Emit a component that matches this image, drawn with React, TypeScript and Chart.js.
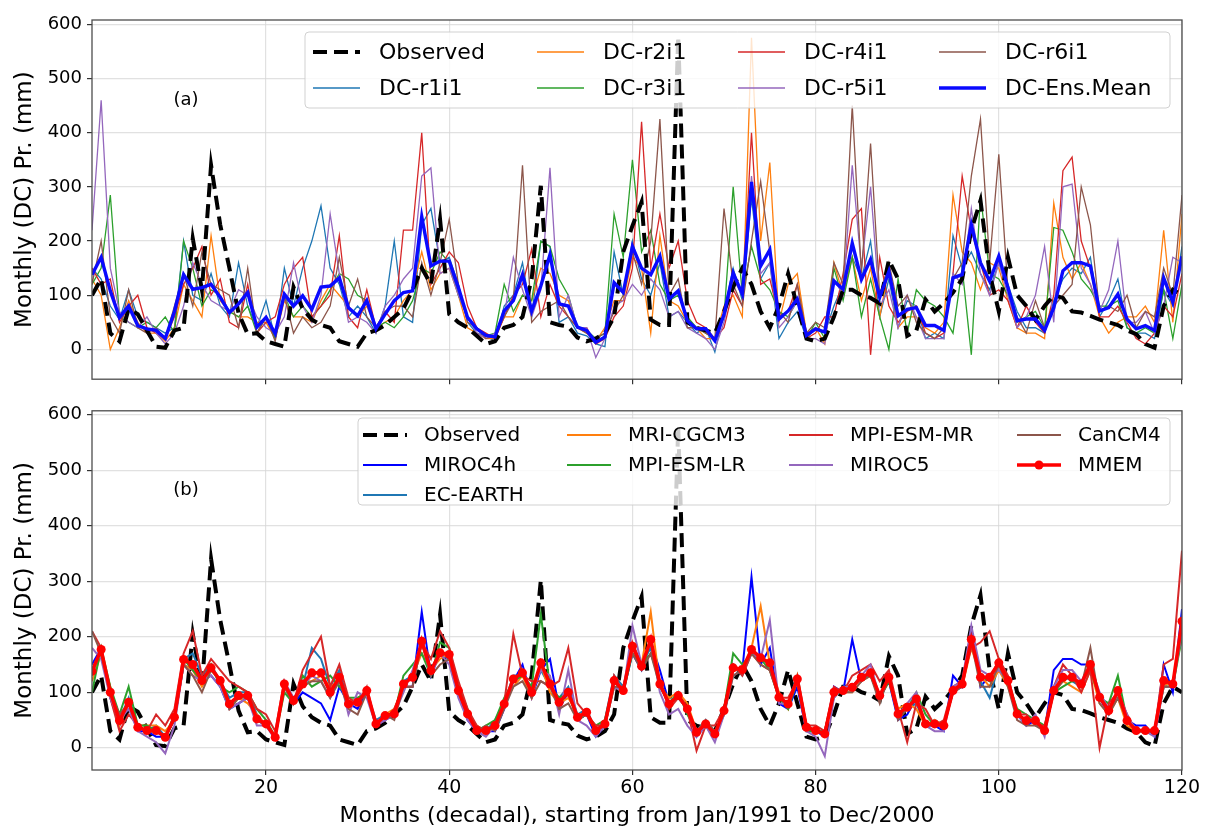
import React, { useEffect, useRef } from "react";
import { Chart, registerables } from "chart.js";
Chart.register(...registerables);

// ---------- data ----------
const months: number[] = Array.from({ length: 120 }, (_, i) => i + 1);
const xTickValues = [20, 40, 60, 80, 100, 120];
const yTickValues = [0, 100, 200, 300, 400, 500, 600];

const observed = [
  100, 130, 30, 15, 75, 65, 35, 5, 3, 35,
  40, 205, 110, 340, 230, 150, 67, 28, 30, 15,
  10, 5, 115, 75, 55, 45, 40, 15, 10, 5,
  30, 35, 45, 60, 75, 110, 150, 120, 240, 65,
  50, 40, 25, 10, 15, 40, 45, 60, 130, 302,
  50, 45, 42, 22, 15, 20, 30, 60, 180, 228,
  272, 55, 45, 45, 578, 50, 40, 35, 30, 70,
  115, 150, 120, 70, 40, 80, 140, 80, 20, 15,
  20, 60, 110, 110, 100, 95, 85, 165, 130, 25,
  35, 92, 70, 85, 105, 130, 220, 275, 140, 70,
  170, 100, 80, 55, 80, 100, 95, 70, 68, 62,
  55, 50, 45, 35, 28, 10, 3, 80, 110, 100,
];

const dcR1 = [
  150, 130, 80, 55, 110, 60, 50, 40, 30, 40,
  200, 100, 90, 140, 80, 60, 160, 80, 40, 90,
  20, 150, 80, 150, 200, 265, 150, 120, 60, 80,
  60, 30, 80, 200, 60, 50, 230, 260, 160, 170,
  120, 50, 30, 25, 15, 80, 100, 160, 60, 200,
  190, 50, 60, 30, 25, 10, 5, 180, 100, 200,
  130, 100, 160, 60, 70, 50, 30, 40, -5, 70,
  150, 90, 280, 130, 160, 20, 50, 70, 20, 40,
  30, 80, 120, 170, 130, 200, 60, 130, 40, 90,
  80, 20, 30, 20, 210, 150, 180, 140, 110, 160,
  120, 70, 40, 40, 30, 90, 130, 150, 140, 170,
  60, 90, 130, 40, 30, 30, 20, 110, 80, 190,
];
const dcR2 = [
  130, 100, 0, 40, 90, 50, 30, 30, 15, 40,
  120, 90, 60, 210, 90, 70, 60, 60, 50, 50,
  20, 90, 60, 60, 50, 90, 120, 100, 80, 60,
  80, 40, 50, 60, 90, 110, 180, 110, 140, 150,
  100, 40, 30, 20, 20, 60, 60, 100, 90, 150,
  140, 100, 90, 40, 30, 15, 40, 90, 90, 170,
  150, 30, 210, 90, 80, 50, 40, 20, 20, 80,
  100, 60, 575, 200, 345, 50, 120, 140, 30, 40,
  10, 160, 100, 170, 90, 150, 60, 150, 40, 60,
  60, 40, 30, 50, 285, 180, 160, 110, 160, 150,
  90, 40, 30, 30, 20, 270, 170, 130, 160, 120,
  60, 30, 50, 60, 60, 80, 50, 220, 50, 250,
];
const dcR3 = [
  120, 150, 285, 60, 50, 40, 50, 40, 60, 30,
  200, 150, 80, 110, 100, 70, 60, 80, 30, 60,
  20, 100, 60, 80, 60, 80, 110, 140, 130, 100,
  90, 40, 50, 40, 60, 90, 150, 140, 180, 160,
  100, 60, 40, 25, 30, 120, 70, 100, 90, 200,
  190, 130, 100, 40, 35, 20, 30, 250, 170, 350,
  180, 220, 120, 90, 100, 60, 40, 30, 20, 60,
  300, 100, 190, 130, 110, 70, 60, 90, 20, 50,
  20, 150, 90, 170, 60, 130, 60, 0, 130, 30,
  110, 90, 80, 60, 30, 150, -10, 285, 140, 130,
  100, 50, 60, 70, 40, 225, 220, 180, 130, 110,
  80, 80, 90, 40, 30, 40, 30, 110, 20, 120,
];
const dcR4 = [
  150, 120, 130, 50, 80, 100, 40, 30, 20, 60,
  120, 150, 190, 100, 130, 50, 40, 120, 30, 50,
  60, 120, 150, 170, 60, 80, 100, 210, 60, 40,
  110, 40, 70, 50, 220, 220, 400, 120, 150, 180,
  160, 80, 40, 30, 20, 60, 100, 120, 185, 60,
  120, 80, 60, 40, 40, 10, 20, 60, 80, 150,
  420, 150, 250, 150, 200, 90, 50, 40, 20, 40,
  110, 80, 400, 120, 130, 60, 70, 120, 20, 30,
  60, 60, 140, 240, 260, -10, 170, 80, 50, 70,
  80, 30, 20, 30, 140, 320, 220, 160, 100, 110,
  90, 40, 80, 50, 30, 100, 330, 355, 200, 150,
  60, 60, 80, 50, 20, 10, 30, 80, 60, 140,
];
const dcR5 = [
  220, 460, 150, 70, 50, 40, 60, 30, 10, 30,
  80, 160, 120, 90, 80, 70, 110, 100, 60, 40,
  30, 60, 160, 80, 50, 100, 250, 140, 50, 60,
  50, 30, 80, 100, 130, 150, 320, 335, 140, 150,
  100, 60, 30, 20, 30, 60, 170, 110, 60, 110,
  335, 60, 100, 40, 40, -15, 20, 80, 90, 120,
  100, 130, 110, 60, 70, 40, 30, 20, 0, 50,
  130, 100, 320, 140, 160, 40, 60, 90, 20, 20,
  10, 130, 100, 340, 150, 300, 80, 110, 40, 100,
  60, 20, 20, 20, 140, 120, 260, 140, 100, 160,
  100, 40, 60, 100, 190, 50, 300, 305, 150, 120,
  70, 110, 200, 50, 50, 70, 30, 80, 170, 160,
];
const dcR6 = [
  120, 200, 60, 30, 110, 40, 30, 40, 20, 80,
  140, 80, 180, 120, 110, 100, 40, 150, 30, 60,
  15, 100, 30, 60, 40, 50, 80, 170, 80, 130,
  60, 40, 70, 80, 80, 60, 160, 100, 160, 240,
  120, 50, 40, 20, 25, 60, 90, 340, 50, 70,
  80, 90, 60, 40, 30, 20, 30, 70, 100, 180,
  120, 200, 425, 100, 130, 40, 40, 30, 20, 260,
  120, 80, 200, 310, 180, 70, 50, 120, 30, 50,
  40, 160, 120, 450, 140, 380, 100, 160, 80, 100,
  50, 30, 20, 40, 130, 160, 320, 425, 160, 360,
  110, 60, 30, 90, 40, 80, 100, 120, 300, 230,
  70, 80, 70, 100, 40, 70, 60, 150, 100, 285,
];
const dcEnsMean = [
  138, 170, 108, 59, 80, 44, 38, 35, 20, 70,
  138, 111, 114, 120, 96, 68, 84, 105, 41, 59,
  29, 102, 80, 99, 74, 115, 117, 132, 77, 62,
  90, 38, 65, 90, 105, 108, 245, 154, 163, 163,
  114, 59, 38, 26, 23, 71, 90, 138, 71, 117,
  175, 84, 80, 41, 35, 13, 23, 123, 105, 190,
  150, 138, 172, 93, 108, 53, 38, 38, 16, 65,
  141, 102, 309, 154, 184, 56, 71, 93, 26, 38,
  32, 126, 111, 196, 129, 166, 96, 144, 62, 74,
  77, 44, 44, 35, 132, 138, 230, 160, 126, 172,
  114, 53, 56, 56, 35, 77, 145, 160, 160, 154,
  71, 77, 102, 56, 38, 44, 35, 132, 87, 172,
];

const miroc4h = [
  150, 180, 90, 40, 80, 30, 30, 20, 20, 50,
  150, 140, 120, 130, 110, 70, 80, 90, 50, 40,
  20, 110, 80, 100, 90, 80, 50, 110, 80, 70,
  100, 40, 50, 60, 110, 110, 245, 130, 170, 160,
  100, 50, 30, 30, 30, 70, 120, 150, 90, 140,
  160, 70, 100, 50, 60, 20, 40, 120, 100, 170,
  140, 190, 140, 80, 90, 70, 20, 40, 20, 60,
  140, 140, 308, 150, 180, 80, 70, 110, 30, 30,
  20, 110, 100, 195, 120, 140, 90, 120, 50, 60,
  90, 40, 40, 30, 130, 110, 215, 110, 130, 150,
  120, 60, 40, 50, 30, 140, 160, 160, 150, 150,
  90, 60, 100, 50, 40, 40, 20, 150, 100, 250,
];
const ecEarth = [
  130, 170, 100, 50, 90, 40, 30, 40, 20, 50,
  160, 170, 130, 150, 120, 90, 100, 100, 60, 40,
  20, 110, 90, 110, 180, 160, 110, 140, 80, 80,
  100, 50, 60, 60, 120, 130, 190, 140, 170, 160,
  100, 60, 30, 30, 50, 80, 130, 130, 110, 140,
  110, 90, 110, 60, 70, 30, 50, 130, 110, 180,
  150, 180, 110, 80, 100, 70, 30, 50, 20, 70,
  150, 130, 170, 160, 150, 90, 80, 130, 40, 30,
  30, 90, 110, 110, 130, 130, 90, 130, 60, 70,
  80, 40, 50, 40, 100, 110, 200, 120, 90, 150,
  120, 60, 50, 50, 30, 100, 130, 120, 110, 150,
  90, 70, 100, 50, 30, 30, 30, 120, 110, 220,
];
const mriCgcm3 = [
  120, 170, 110, 40, 80, 40, 40, 40, 30, 50,
  150, 140, 110, 140, 120, 70, 90, 80, 60, 40,
  20, 110, 80, 120, 120, 130, 110, 120, 80, 90,
  100, 40, 60, 70, 110, 130, 170, 140, 160, 170,
  100, 60, 40, 30, 40, 80, 110, 130, 90, 150,
  100, 80, 90, 60, 60, 30, 40, 110, 100, 180,
  150, 245, 110, 90, 100, 80, 30, 40, 30, 60,
  140, 140, 180, 255, 150, 100, 70, 130, 40, 30,
  30, 100, 100, 100, 120, 130, 90, 120, 70, 80,
  70, 40, 50, 40, 110, 110, 180, 130, 110, 140,
  110, 60, 50, 50, 30, 100, 120, 110, 100, 140,
  80, 60, 90, 40, 30, 30, 30, 110, 120, 200,
];
const mpiEsmLr = [
  100, 180, 110, 60, 110, 40, 40, 30, 20, 60,
  160, 140, 120, 150, 110, 100, 110, 100, 70, 50,
  20, 100, 80, 130, 110, 120, 130, 110, 90, 90,
  100, 40, 60, 60, 130, 150, 170, 130, 190, 180,
  110, 70, 30, 40, 50, 90, 120, 130, 110, 240,
  110, 90, 100, 50, 60, 40, 50, 120, 100, 170,
  150, 170, 120, 80, 100, 60, 30, 40, 20, 70,
  170, 150, 170, 160, 140, 90, 70, 120, 30, 30,
  30, 100, 100, 110, 130, 130, 90, 120, 60, 70,
  100, 60, 40, 40, 100, 120, 190, 130, 120, 160,
  120, 70, 60, 50, 40, 100, 110, 120, 120, 140,
  90, 80, 130, 50, 30, 30, 30, 110, 110, 200,
];
const mpiEsmMr = [
  210, 180, 90, 30, 60, 40, 30, 60, 40, 70,
  170, 210, 130, 160, 140, 120, 110, 100, 70, 60,
  30, 120, 80, 140, 170, 200, 110, 150, 90, 80,
  110, 40, 50, 70, 110, 110, 190, 160, 210, 180,
  120, 70, 40, 30, 40, 80, 205, 130, 120, 120,
  110, 120, 180, 80, 60, 40, 40, 130, 100, 190,
  150, 190, 120, 70, 90, 70, -5, 40, 40, 70,
  150, 130, 170, 150, 140, 90, 90, 120, 40, 40,
  30, 110, 100, 130, 140, 150, 120, 140, 70, 10,
  80, 70, 40, 50, 110, 120, 180, 190, 210, 160,
  130, 60, 60, 40, 40, 110, 150, 130, 100, 140,
  0, 80, 100, 60, 30, 30, 30, 150, 160, 355,
];
const miroc5 = [
  180, 160, 90, 50, 70, 30, 20, 10, -10, 40,
  150, 130, 120, 130, 110, 70, 80, 90, 40, 40,
  15, 120, 90, 110, 130, 120, 90, 130, 60, 100,
  90, 40, 50, 60, 100, 140, 190, 130, 170, 150,
  90, 50, 30, 20, 40, 70, 120, 140, 100, 140,
  130, 60, 140, 50, 40, 20, 40, 110, 100, 220,
  150, 190, 100, 60, 70, 40, 20, 40, 10, 60,
  130, 140, 170, 160, 230, 80, 80, 120, 30, 20,
  -15, 90, 110, 110, 130, 150, 90, 130, 60, 80,
  100, 40, 30, 30, 110, 120, 220, 140, 130, 140,
  120, 60, 40, 60, 20, 110, 140, 140, 120, 150,
  100, 70, 100, 60, 30, 30, 20, 110, 110, 210,
];
const canCm4 = [
  210, 170, 100, 60, 80, 40, 30, 30, 20, 50,
  150, 130, 100, 140, 120, 70, 90, 90, 50, 40,
  20, 110, 80, 110, 120, 120, 90, 120, 70, 60,
  100, 40, 60, 50, 110, 110, 190, 130, 150, 160,
  100, 60, 30, 40, 30, 70, 110, 120, 90, 120,
  110, 70, 80, 50, 60, 30, 40, 110, 110, 170,
  140, 170, 110, 80, 90, 70, 30, 50, 30, 60,
  130, 140, 170, 150, 140, 90, 80, 120, 40, 30,
  30, 100, 100, 100, 120, 130, 80, 130, 50, 70,
  90, 40, 40, 40, 100, 110, 190, 110, 110, 150,
  110, 50, 40, 40, 30, 100, 120, 130, 110, 180,
  80, 60, 90, 50, 30, 30, 30, 110, 110, 220,
];
const mmem = [
  138, 177, 100, 49, 82, 37, 31, 31, 19, 55,
  159, 150, 121, 144, 121, 79, 94, 94, 52, 43,
  19, 115, 85, 115, 135, 135, 100, 127, 79, 82,
  103, 43, 58, 61, 115, 127, 192, 139, 171, 168,
  103, 61, 31, 31, 40, 79, 124, 135, 100, 153,
  115, 82, 100, 55, 64, 31, 43, 121, 103, 183,
  147, 195, 115, 79, 94, 70, 28, 43, 25, 67,
  144, 141, 177, 162, 153, 91, 79, 124, 37, 31,
  25, 100, 103, 109, 127, 135, 94, 127, 61, 73,
  88, 43, 43, 40, 103, 115, 195, 127, 127, 153,
  121, 61, 49, 49, 31, 103, 127, 127, 115, 150,
  91, 67, 103, 49, 31, 31, 31, 121, 115, 228,
];

// ---------- styling ----------
const FONT = "DejaVu Sans";
const GRID = "rgba(215,215,215,0.75)";
const C = {
  c0: "#1f77b4", c1: "#ff7f0e", c2: "#2ca02c", c3: "#d62728", c4: "#9467bd", c5: "#8c564b",
};

type Series = {
  label: string; data: number[]; color: string; width: number;
  dash?: number[]; points?: number; order: number;
};

const topSeries: Series[] = [
  { label: "Observed", data: observed, color: "#000000", width: 4, dash: [14, 7], order: 1 },
  { label: "DC-r1i1", data: dcR1, color: C.c0, width: 1.3, order: 7 },
  { label: "DC-r2i1", data: dcR2, color: C.c1, width: 1.3, order: 6 },
  { label: "DC-r3i1", data: dcR3, color: C.c2, width: 1.3, order: 5 },
  { label: "DC-r4i1", data: dcR4, color: C.c3, width: 1.3, order: 4 },
  { label: "DC-r5i1", data: dcR5, color: C.c4, width: 1.3, order: 3 },
  { label: "DC-r6i1", data: dcR6, color: C.c5, width: 1.3, order: 2 },
  { label: "DC-Ens.Mean", data: dcEnsMean, color: "#0a0aff", width: 3.4, order: 0 },
];

const bottomSeries: Series[] = [
  { label: "Observed", data: observed, color: "#000000", width: 4, dash: [14, 7], order: 8 },
  { label: "MIROC4h", data: miroc4h, color: "#0000ff", width: 2, order: 7 },
  { label: "EC-EARTH", data: ecEarth, color: C.c0, width: 2, order: 6 },
  { label: "MRI-CGCM3", data: mriCgcm3, color: C.c1, width: 2, order: 5 },
  { label: "MPI-ESM-LR", data: mpiEsmLr, color: C.c2, width: 2, order: 4 },
  { label: "MPI-ESM-MR", data: mpiEsmMr, color: C.c3, width: 2, order: 3 },
  { label: "MIROC5", data: miroc5, color: C.c4, width: 2, order: 2 },
  { label: "CanCM4", data: canCm4, color: C.c5, width: 2, order: 1 },
  { label: "MMEM", data: mmem, color: "#ff0000", width: 3.5, points: 4.5, order: 0 },
];

type LegendLayout = {
  box: { x: number; y: number; w: number; h: number };
  cols: number[]; rows: number[]; slots: number[][];
  handleLen: number; textOffset: number; fontSize: number;
};

function makeDecorPlugin(series: Series[], lg: LegendLayout, panelLabel: string, labelPos: { x: number; y: number }) {
  return {
    id: "decor_" + panelLabel,
    afterDatasetsDraw(chart: any) {
      const ctx: CanvasRenderingContext2D = chart.ctx;
      const a = chart.chartArea;
      ctx.save();
      ctx.strokeStyle = "#4d4d4d";
      ctx.lineWidth = 1.3;
      ctx.strokeRect(a.left, a.top, a.right - a.left, a.bottom - a.top);
      ctx.fillStyle = "#000";
      ctx.font = `18px "${FONT}"`;
      ctx.textAlign = "center";
      ctx.textBaseline = "middle";
      ctx.fillText(panelLabel, labelPos.x, labelPos.y);
      const b = lg.box, r = 4;
      ctx.beginPath();
      ctx.moveTo(b.x + r, b.y);
      ctx.lineTo(b.x + b.w - r, b.y);
      ctx.quadraticCurveTo(b.x + b.w, b.y, b.x + b.w, b.y + r);
      ctx.lineTo(b.x + b.w, b.y + b.h - r);
      ctx.quadraticCurveTo(b.x + b.w, b.y + b.h, b.x + b.w - r, b.y + b.h);
      ctx.lineTo(b.x + r, b.y + b.h);
      ctx.quadraticCurveTo(b.x, b.y + b.h, b.x, b.y + b.h - r);
      ctx.lineTo(b.x, b.y + r);
      ctx.quadraticCurveTo(b.x, b.y, b.x + r, b.y);
      ctx.closePath();
      ctx.fillStyle = "rgba(255,255,255,0.8)";
      ctx.fill();
      ctx.strokeStyle = "rgba(204,204,204,0.9)";
      ctx.lineWidth = 1;
      ctx.stroke();
      series.forEach((s, i) => {
        const [ci, ri] = lg.slots[i];
        const x0 = lg.cols[ci];
        const y0 = lg.rows[ri];
        ctx.beginPath();
        ctx.setLineDash(s.dash ? s.dash : []);
        ctx.strokeStyle = s.color;
        ctx.lineWidth = s.width;
        ctx.lineCap = "butt";
        ctx.moveTo(x0, y0);
        ctx.lineTo(x0 + lg.handleLen, y0);
        ctx.stroke();
        ctx.setLineDash([]);
        if (s.points) {
          ctx.beginPath();
          ctx.fillStyle = s.color;
          ctx.arc(x0 + lg.handleLen / 2, y0, s.points, 0, Math.PI * 2);
          ctx.fill();
        }
        ctx.fillStyle = "#000";
        ctx.font = `${lg.fontSize}px "${FONT}"`;
        ctx.textAlign = "left";
        ctx.textBaseline = "middle";
        ctx.fillText(s.label, x0 + lg.textOffset, y0 + 1);
      });
      ctx.restore();
    },
  };
}

type PanelProps = {
  top: number; width: number; height: number;
  area: { left: number; top: number; right: number; bottom: number };
  series: Series[]; yMin: number; yMax: number;
  showXLabels: boolean; xTitle: string; legend: LegendLayout;
  panelLabel: string; labelPos: { x: number; y: number };
};

function Panel(p: PanelProps) {
  const ref = useRef<HTMLCanvasElement | null>(null);
  useEffect(() => {
    if (!ref.current) return;
    const datasets = p.series.map((s) => ({
      label: s.label,
      data: months.map((m, i) => ({ x: m, y: s.data[i] })),
      borderColor: s.color,
      backgroundColor: s.color,
      borderWidth: s.width,
      borderDash: s.dash || [],
      pointRadius: s.points || 0,
      pointBorderWidth: 0,
      pointBackgroundColor: s.color,
      fill: false,
      tension: 0,
      order: s.order,
    }));
    const chart = new Chart(ref.current, {
      type: "line",
      data: { datasets } as any,
      options: {
        responsive: false,
        animation: false,
        events: [],
        layout: { padding: { left: 0, top: p.area.top, right: p.width - p.area.right, bottom: 0 } },
        plugins: { legend: { display: false }, tooltip: { enabled: false } },
        scales: {
          x: {
            type: "linear",
            min: 1,
            max: 120,
            afterBuildTicks: (s: any) => { s.ticks = xTickValues.map((v) => ({ value: v })); },
            afterFit: (s: any) => { s.height = p.height - p.area.bottom; },
            grid: { color: GRID, lineWidth: 1.2, tickColor: "#333", tickLength: 5, drawTicks: true },
            border: { display: false },
            ticks: {
              display: p.showXLabels, color: "#000", padding: 2, maxRotation: 0, autoSkip: false,
              font: { family: FONT, size: 19 },
            },
            title: {
              display: !!p.xTitle, text: p.xTitle, color: "#000",
              font: { family: FONT, size: 22, lineHeight: 1 }, padding: { top: 0, bottom: 0 },
            },
          },
          y: {
            type: "linear",
            min: p.yMin,
            max: p.yMax,
            afterBuildTicks: (s: any) => { s.ticks = yTickValues.map((v) => ({ value: v })); },
            afterFit: (s: any) => { s.width = p.area.left; },
            grid: { color: GRID, lineWidth: 1.2, tickColor: "#333", tickLength: 5, drawTicks: true },
            border: { display: false },
            ticks: { color: "#000", padding: 5, font: { family: FONT, size: 18 } },
            title: {
              display: true, text: "Monthly (DC) Pr. (mm)", color: "#000",
              font: { family: FONT, size: 23, lineHeight: 1.2 }, padding: { top: 11, bottom: 0 },
            },
          },
        },
      } as any,
      plugins: [makeDecorPlugin(p.series, p.legend, p.panelLabel, p.labelPos)],
    });
    return () => chart.destroy();
  }, []);
  return (
    <canvas
      ref={ref}
      width={p.width}
      height={p.height}
      style={{ position: "absolute", left: 0, top: p.top, width: p.width, height: p.height }}
    />
  );
}

const topLegend: LegendLayout = {
  box: { x: 305, y: 32, w: 865, h: 76 },
  cols: [313, 537, 738, 939],
  rows: [52, 88],
  slots: [[0, 0], [0, 1], [1, 0], [1, 1], [2, 0], [2, 1], [3, 0], [3, 1]],
  handleLen: 47, textOffset: 66, fontSize: 22,
};
const bottomLegend: LegendLayout = {
  box: { x: 358, y: 23, w: 812, h: 87 },
  cols: [363, 567, 789, 1017],
  rows: [40, 70, 100],
  slots: [[0, 0], [0, 1], [0, 2], [1, 0], [1, 1], [2, 0], [2, 1], [3, 0], [3, 1]],
  handleLen: 44, textOffset: 61, fontSize: 20,
};

export default function App() {
  return (
    <div style={{ position: "absolute", left: 0, top: 0, width: 1208, height: 827, background: "#fff" }}>
      <Panel
        top={0} width={1208} height={395}
        area={{ left: 92, top: 20, right: 1182, bottom: 383 }}
        series={topSeries} yMin={-55} yMax={608}
        showXLabels={false} xTitle="" legend={topLegend}
        panelLabel="(a)" labelPos={{ x: 186, y: 100 }}
      />
      <Panel
        top={395} width={1208} height={432}
        area={{ left: 92, top: 12, right: 1182, bottom: 375 }}
        series={bottomSeries} yMin={-40} yMax={607}
        showXLabels={true} xTitle="Months (decadal), starting from Jan/1991 to Dec/2000" legend={bottomLegend}
        panelLabel="(b)" labelPos={{ x: 186, y: 95 }}
      />
    </div>
  );
}
